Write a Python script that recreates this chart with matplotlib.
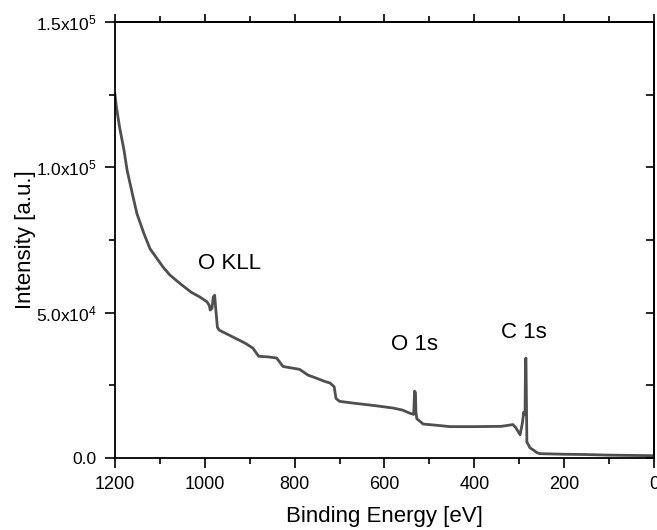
import matplotlib.pyplot as plt
from matplotlib.ticker import MultipleLocator, FixedLocator, NullFormatter

plt.rcParams['font.family'] = ['Liberation Sans', 'DejaVu Sans']
plt.rcParams['mathtext.fontset'] = 'custom'
plt.rcParams['mathtext.rm'] = 'Liberation Sans'
plt.rcParams['mathtext.it'] = 'Liberation Sans'

# survey spectrum (binding energy in eV, counts)
energy = [1200, 1197, 1190, 1180, 1173, 1160, 1151, 1135, 1122, 1093,
          1078, 1055, 1030, 1011, 995, 990, 988, 984, 981, 978, 976, 972,
          968, 937, 910, 893, 880, 860, 840, 826, 800, 789, 770, 759, 730,
          721, 712, 708, 700, 670, 620, 581, 560, 545, 535, 533, 531, 530,
          528, 520, 514, 480, 454, 400, 340, 314, 308, 298, 293, 290, 287,
          286, 285, 284, 283, 276, 269, 260, 254, 200, 150, 100, 50, 0]
intensity = [125000, 121000, 114000, 106000, 99000, 90000, 84000,
             77000, 72000, 65700, 63000, 60000, 57000, 55400, 53700, 52500,
             50900, 51500, 55500, 56000, 52000, 45000, 44000, 41600, 39500,
             37800, 35000, 34800, 34400, 31500, 30800, 30500, 28500, 27900,
             26200, 25800, 24500, 20500, 19500, 18900, 18000, 17200, 16500,
             15500, 15000, 23000, 22500, 16000, 13500, 12500, 11700, 11200,
             10800, 10800, 10900, 11500, 10500, 8000, 12000, 15800, 15000,
             34000, 34400, 20000, 5500, 3500, 2800, 1800, 1500, 1300, 1200,
             1000, 900, 800]

peak_names = ['O KLL', 'O 1s', 'C 1s']
peak_x = [944, 534, 289]
peak_y = [67000, 39200, 43300]

yticks = [0, 5e4, 1e5, 1.5e5]
ytick_labels = ['0.0', r'5.0x10$^{4}$', r'1.0x10$^{5}$', r'1.5x10$^{5}$']

fig = plt.figure(figsize=(6.57, 5.30), dpi=100)
ax = fig.add_axes([0.175, 0.1358, 0.8204, 0.8227])
ax.plot(energy, intensity, color='#4f4f4f', lw=2)

for name, px, py in zip(peak_names, peak_x, peak_y):
    ax.text(px, py, name, fontsize=16, ha='center', va='center')

ax.set_xlim(1200, 0)
ax.set_ylim(0, 1.5e5)
ax.xaxis.set_major_locator(MultipleLocator(200))
ax.xaxis.set_minor_locator(MultipleLocator(100))
ax.set_yticks(yticks)
ax.set_yticklabels(ytick_labels)
ax.yaxis.set_minor_locator(MultipleLocator(2.5e4))
ax.tick_params(which='major', direction='out', length=7, width=1.2, labelsize=13)
ax.tick_params(axis='y', which='major', labelsize=12.5, pad=6)
ax.tick_params(axis='x', which='major', pad=6)
ax.tick_params(which='minor', direction='out', length=4, width=1.2)
for s in ax.spines.values():
    s.set_linewidth(1.3)

# top axis: ticks point outward, right axis: ticks point inward
top = ax.secondary_xaxis('top')
top.xaxis.set_major_locator(MultipleLocator(200))
top.xaxis.set_minor_locator(MultipleLocator(100))
top.xaxis.set_major_formatter(NullFormatter())
top.tick_params(which='major', direction='out', length=6, width=1.2)
top.tick_params(which='minor', direction='out', length=4, width=1.2)
top.spines['top'].set_linewidth(1.3)

right = ax.secondary_yaxis('right')
right.yaxis.set_major_locator(FixedLocator(yticks))
right.yaxis.set_minor_locator(MultipleLocator(2.5e4))
right.yaxis.set_major_formatter(NullFormatter())
right.tick_params(which='major', direction='in', length=6, width=1.2)
right.tick_params(which='minor', direction='in', length=6, width=1.2)
right.spines['right'].set_linewidth(1.3)

ax.set_xlabel('Binding Energy [eV]', fontsize=16, labelpad=9)
ax.set_ylabel('Intensity [a.u.]', fontsize=16, labelpad=0)

fig.savefig('out.png', dpi=100)
